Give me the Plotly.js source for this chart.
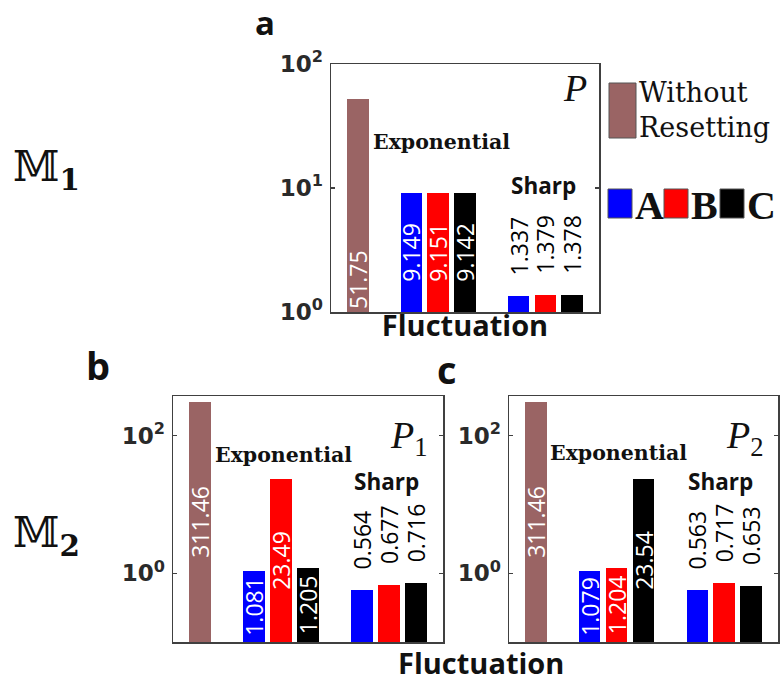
<!DOCTYPE html>
<html>
<head>
<meta charset="utf-8">
<script src="https://cdn.plot.ly/plotly-3.0.1.min.js"></script>
<style>html,body{margin:0;padding:0;background:#fff;}#chart{width:780px;height:684px;}</style>
</head>
<body>
<div id="chart"></div>
<script>
// ---------- data ----------
const seriesNames = ["A", "B", "C"];
const groupNames = ["Exponential", "Sharp"];
const noResetName = "Without Resetting";

// Panel a : M1, P
const aNoReset = 51.75;
const aA = [9.149, 1.337];
const aB = [9.151, 1.379];
const aC = [9.142, 1.378];

// Panel b : M2, P1
const bNoReset = 311.46;
const bA = [1.081, 0.564];
const bB = [23.49, 0.677];
const bC = [1.205, 0.716];

// Panel c : M2, P2
const cNoReset = 311.46;
const cA = [1.079, 0.563];
const cB = [1.204, 0.717];
const cC = [23.54, 0.653];

const tickValsA = [1, 10, 100];
const tickTextA = ["10<sup>0</sup>", "10<sup>1</sup>", "10<sup>2</sup>"];
const tickValsBC = [1, 100];
const tickTextBC = ["10<sup>0</sup>", "10<sup>2</sup>"];

// ---------- styles ----------
const colNoReset = "#9a6464";
const seriesColors = ["#0000ff", "#ff0000", "#000000"];
const frameCol = "#404040";
const W = 780, H = 684;
const X = px => px / W;
const Y = py => 1 - py / H;

// slot layout on the x axis: no-reset bar, then groups
const noResetSlot = 0;
const groupSlots = [2, 6];

const valFont = {family: "Open Sans", size: 23};

// bars start at the bottom of the log axis (baseVal) and end at the value
function panelTraces(noReset, A, B, C, ax, baseVal, noResetAnchor) {
  const xa = "x" + ax, ya = "y" + ax;
  const traces = [];
  traces.push({
    type: "bar", x: [noResetSlot], y: [noReset - baseVal], base: baseVal, xaxis: xa, yaxis: ya,
    width: 0.8, marker: {color: colNoReset, line: {width: 0}},
    text: [String(noReset)], textposition: "inside", insidetextanchor: noResetAnchor,
    textangle: -90, constraintext: "none",
    textfont: Object.assign({}, valFont, {color: "#ffffff"}),
    showlegend: false, name: noResetName, hoverinfo: "text"
  });
  [A, B, C].forEach((vals, s) => {
    traces.push({
      type: "bar", x: groupSlots.map(g => g + s), y: vals.map(v => v - baseVal), base: baseVal,
      xaxis: xa, yaxis: ya,
      width: 0.8, marker: {color: seriesColors[s], line: {width: 0}},
      text: vals.map((v, i) => i === 1 ? "\u00a0\u00a0\u00a0" + String(v) : String(v)),
      textposition: ["inside", "outside"], insidetextanchor: "middle",
      textangle: -90, constraintext: "none",
      textfont: Object.assign({}, valFont, {color: ["#ffffff", "#000000"]}),
      cliponaxis: false,
      showlegend: false, name: seriesNames[s], hoverinfo: "text"
    });
  });
  return traces;
}

const data = [].concat(
  panelTraces(aNoReset, aA, aB, aC, "", 1, "start"),
  panelTraces(bNoReset, bA, bB, bC, "2", 0.1, "middle"),
  panelTraces(cNoReset, cA, cB, cC, "3", 0.1, "middle")
);

const tickFont = {family: "DejaVu Sans", size: 23, color: "#2a2a2a", weight: "bold"};

function xAxis(domain, anchor) {
  return {
    domain: domain, anchor: anchor, range: [-1, 9], showline: true, mirror: true,
    linecolor: frameCol, linewidth: 1.5, ticks: "", showticklabels: false,
    showgrid: false, zeroline: false, fixedrange: true
  };
}
function yAxis(domain, anchor, range, tv, tt) {
  return {
    domain: domain, anchor: anchor, type: "log", range: range, showline: true, mirror: "ticks",
    linecolor: frameCol, linewidth: 1.5, ticks: "inside", ticklen: 4, tickwidth: 1.2,
    tickcolor: frameCol, tickmode: "array", tickvals: tv, ticktext: tt,
    tickfont: tickFont, ticklabelstandoff: 2,
    showgrid: false, zeroline: false, fixedrange: true
  };
}

const titleFont = {family: "Open Sans", size: 29, color: "#111", weight: "bold"};
const xA = xAxis([X(331), X(599)], "y");
xA.title = {text: "Fluctuation", font: titleFont, standoff: 3};

const layout = {
  width: W, height: H,
  margin: {l: 0, r: 0, t: 0, b: 0},
  paper_bgcolor: "#ffffff", plot_bgcolor: "#ffffff",
  barmode: "overlay", bargap: 0,
  showlegend: false,
  xaxis: xA,
  yaxis: yAxis([Y(312), Y(64)], "x", [0, 2], tickValsA, tickTextA),
  xaxis2: xAxis([X(173), X(443)], "y2"),
  yaxis2: yAxis([Y(642), Y(396)], "x2", [-1, 2.58], tickValsBC, tickTextBC),
  xaxis3: xAxis([X(509), X(778)], "y3"),
  yaxis3: yAxis([Y(642), Y(396)], "x3", [-1, 2.58], tickValsBC, tickTextBC),
  shapes: [
    {type: "rect", xref: "paper", yref: "paper", x0: X(609), x1: X(636), y0: Y(138), y1: Y(83),
     fillcolor: colNoReset, line: {color: "#555", width: 1}},
    {type: "rect", xref: "paper", yref: "paper", x0: X(608), x1: X(632), y0: Y(218), y1: Y(189),
     fillcolor: seriesColors[0], line: {color: "#555", width: 1}},
    {type: "rect", xref: "paper", yref: "paper", x0: X(664), x1: X(688), y0: Y(218), y1: Y(189),
     fillcolor: seriesColors[1], line: {color: "#555", width: 1}},
    {type: "rect", xref: "paper", yref: "paper", x0: X(720), x1: X(744), y0: Y(218), y1: Y(189),
     fillcolor: seriesColors[2], line: {color: "#555", width: 1}}
  ],
  annotations: []
};

function ann(text, px, py, font, xanchor, yanchor) {
  layout.annotations.push({
    text: text, xref: "paper", yref: "paper", x: X(px), y: Y(py),
    xanchor: xanchor || "center", yanchor: yanchor || "middle", showarrow: false,
    font: font, align: "left"
  });
}

const expFont = {family: "DejaVu Serif", size: 20.5, color: "#111", weight: "bold"};
const sharpFont = {family: "Open Sans", size: 22.5, color: "#111", weight: "bold"};
const pFont = {family: "Liberation Serif", size: 38, color: "#111"};
const panelFont = {family: "Open Sans", size: 38, color: "#111", weight: "bold"};
const mFont = {family: "DejaVu Serif", size: 42, color: "#111"};
const legFont = {family: "DejaVu Serif", size: 27, color: "#111"};
const legABCFont = {family: "Liberation Serif", size: 40, color: "#111", weight: "bold"};

// panel letters
ann("a", 253, 23, {family: "Open Sans", size: 33, color: "#111", weight: "bold"}, "left");
ann("b", 84, 365, panelFont, "left");
ann("c", 435, 369, panelFont, "left");
// model labels
ann("\ud835\udd44<sub><b>1</b></sub>", 11, 170, mFont, "left");
ann("\ud835\udd44<sub><b>2</b></sub>", 11, 535, mFont, "left");
// group labels
ann(groupNames[0], 441, 142, expFont);
ann(groupNames[1], 543, 185, sharpFont);
ann(groupNames[0], 283, 455, expFont);
ann(groupNames[1], 386, 481, sharpFont);
ann(groupNames[0], 618, 453, expFont);
ann(groupNames[1], 720, 481, sharpFont);
// P labels
ann("<i>P</i>", 589, 88, pFont, "right");
ann("<i>P</i><sub>1</sub>", 430, 438, pFont, "right");
ann("<i>P</i><sub>2</sub>", 766, 438, pFont, "right");
// shared x title for bottom row
ann("Fluctuation", 481, 662, titleFont);
// legend texts
ann("Without<br>Resetting", 637, 110, legFont, "left");
ann(seriesNames[0], 633, 205, legABCFont, "left");
ann(seriesNames[1], 689, 205, legABCFont, "left");
ann(seriesNames[2], 745, 205, legABCFont, "left");

Plotly.newPlot("chart", data, layout, {displayModeBar: false, staticPlot: true});
</script>
</body>
</html>
